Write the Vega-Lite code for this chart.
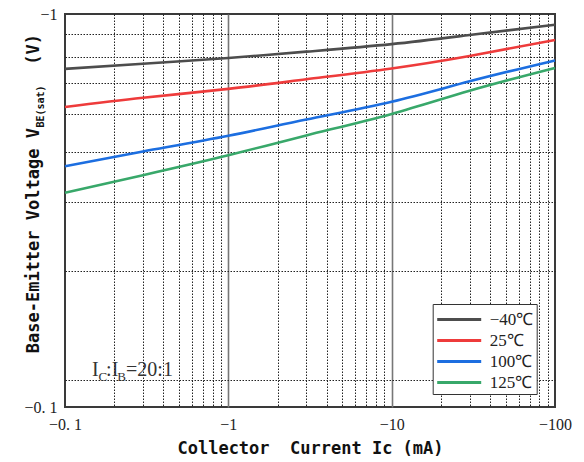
{
  "$schema": "https://vega.github.io/schema/vega-lite/v6.json",
  "width": 490,
  "height": 393,
  "autosize": {"type": "none"},
  "padding": {"left": 65, "top": 14, "right": 29, "bottom": 55},
  "background": "white",
  "config": {
    "view": {"stroke": "#3a3a3a", "strokeWidth": 2},
    "axis": {"ticks": false, "domain": false, "labelOverlap": false, "labelBound": false, "labelFlush": false}
  },
  "datasets": {
    "curves": [
      {"temp": "\u221240\u2103", "ic": 0.1, "vbe": 0.725},
      {"temp": "\u221240\u2103", "ic": 0.3, "vbe": 0.747},
      {"temp": "\u221240\u2103", "ic": 1, "vbe": 0.773},
      {"temp": "\u221240\u2103", "ic": 3, "vbe": 0.802},
      {"temp": "\u221240\u2103", "ic": 10, "vbe": 0.838},
      {"temp": "\u221240\u2103", "ic": 30, "vbe": 0.884},
      {"temp": "\u221240\u2103", "ic": 100, "vbe": 0.939},
      {"temp": "25\u2103", "ic": 0.1, "vbe": 0.58},
      {"temp": "25\u2103", "ic": 0.3, "vbe": 0.612},
      {"temp": "25\u2103", "ic": 1, "vbe": 0.645},
      {"temp": "25\u2103", "ic": 3, "vbe": 0.682},
      {"temp": "25\u2103", "ic": 10, "vbe": 0.727},
      {"temp": "25\u2103", "ic": 30, "vbe": 0.782},
      {"temp": "25\u2103", "ic": 100, "vbe": 0.859},
      {"temp": "100\u2103", "ic": 0.1, "vbe": 0.41},
      {"temp": "100\u2103", "ic": 0.3, "vbe": 0.447},
      {"temp": "100\u2103", "ic": 1, "vbe": 0.49},
      {"temp": "100\u2103", "ic": 3, "vbe": 0.539},
      {"temp": "100\u2103", "ic": 10, "vbe": 0.598},
      {"temp": "100\u2103", "ic": 30, "vbe": 0.674},
      {"temp": "100\u2103", "ic": 100, "vbe": 0.762},
      {"temp": "125\u2103", "ic": 0.1, "vbe": 0.351},
      {"temp": "125\u2103", "ic": 0.3, "vbe": 0.389},
      {"temp": "125\u2103", "ic": 1, "vbe": 0.437},
      {"temp": "125\u2103", "ic": 3, "vbe": 0.491},
      {"temp": "125\u2103", "ic": 10, "vbe": 0.557},
      {"temp": "125\u2103", "ic": 30, "vbe": 0.638},
      {"temp": "125\u2103", "ic": 100, "vbe": 0.729}
    ],
    "ytitle": [
      {"t": "Base-Emitter Voltage V", "ic": 0.069, "vbe": 0.137},
      {"t": "(V)", "ic": 0.069, "vbe": 0.743}
    ],
    "ytitlesub": [
      {"t": "BE(sat)", "ic": 0.0744, "vbe": 0.514}
    ],
    "note": [
      {"t": "I", "ic": 0.1463, "vbe": 0.1197},
      {"t": ":", "ic": 0.1785, "vbe": 0.1197},
      {"t": "I", "ic": 0.1935, "vbe": 0.1197},
      {"t": "=20:1", "ic": 0.2365, "vbe": 0.1197}
    ],
    "notesub": [
      {"t": "C", "ic": 0.1605, "vbe": 0.1164},
      {"t": "B", "ic": 0.209, "vbe": 0.1164}
    ]
  },
  "layer": [
    {
      "data": {"name": "curves"},
      "mark": {"type": "line", "interpolate": "natural", "strokeWidth": 2.6},
      "encoding": {
        "x": {
          "field": "ic", "type": "quantitative",
          "scale": {"type": "log", "domain": [0.1, 100], "nice": false},
          "axis": {
            "values": [0.1, 0.2, 0.3, 0.4, 0.5, 0.6, 0.7, 0.8, 0.9, 1, 2, 3, 4, 5, 6, 7, 8, 9, 10, 20, 30, 40, 50, 60, 70, 80, 90, 100],
            "title": "Collector\u00a0 Current Ic (mA)",
            "titleFont": "DejaVu Sans Mono", "titleFontSize": 17, "titleFontWeight": "bold", "titleColor": "#111", "titlePadding": 8,
            "labelExpr": "datum.value == 0.1 ? '\u22120. 1' : datum.value == 1 ? '\u22121' : datum.value == 10 ? '\u221210' : datum.value == 100 ? '\u2212100' : ''",
            "labelFont": "Liberation Serif", "labelFontSize": 16, "labelColor": "#222", "labelPadding": 9,
            "grid": true,
            "gridColor": {"condition": {"test": "datum.value == 1 || datum.value == 10", "value": "#777777"}, "value": "#222222"},
            "gridDash": {"condition": {"test": "datum.value == 1 || datum.value == 10", "value": []}, "value": [1.5, 1.5]},
            "gridWidth": {"condition": {"test": "datum.value == 1 || datum.value == 10", "value": 1.6}, "value": 1},
            "gridOpacity": {"condition": {"test": "datum.value == 0.1 || datum.value == 100", "value": 0}, "value": 1}
          }
        },
        "y": {
          "field": "vbe", "type": "quantitative",
          "scale": {"type": "log", "domain": [0.1, 1], "nice": false},
          "axis": {
            "values": [0.1, 0.117, 0.2222, 0.3333, 0.4444, 0.5556, 0.6667, 0.7778, 0.8889, 1],
            "title": null,
            "labelExpr": "datum.value == 1 ? '\u22121' : datum.value == 0.1 ? '\u22120. 1' : ''",
            "labelFont": "Liberation Serif", "labelFontSize": 16, "labelColor": "#222", "labelPadding": 8,
            "grid": true, "gridColor": "#222222", "gridDash": [1.5, 1.5], "gridWidth": 1,
            "gridOpacity": {"condition": {"test": "datum.value == 0.1 || datum.value == 1", "value": 0}, "value": 1}
          }
        },
        "color": {
          "field": "temp", "type": "nominal",
          "scale": {
            "domain": ["\u221240\u2103", "25\u2103", "100\u2103", "125\u2103"],
            "range": ["#4d4d4d", "#ee3b3b", "#1c6ee0", "#38a86a"]
          },
          "legend": {
            "orient": "none", "legendX": 367.7, "legendY": 290,
            "title": null,
            "symbolType": "M-1,0H3", "symbolSize": 484, "symbolStrokeWidth": 3, "symbolOffset": 0,
            "labelOffset": 29, "labelFont": "Liberation Serif", "labelFontSize": 17, "labelColor": "#222",
            "labelExpr": "indexof(datum.value, '25') == 0 ? '\u2002' + datum.value : datum.value",
            "padding": 3, "rowPadding": 0,
            "strokeColor": "#333333", "fillColor": "white"
          }
        }
      }
    },
    {
      "data": {"name": "ytitle"},
      "mark": {"type": "text", "angle": 270, "align": "left", "baseline": "alphabetic", "font": "DejaVu Sans Mono", "fontSize": 17, "fontWeight": "bold", "color": "#111"},
      "encoding": {
        "x": {"field": "ic", "type": "quantitative"},
        "y": {"field": "vbe", "type": "quantitative"},
        "text": {"field": "t"}
      }
    },
    {
      "data": {"name": "ytitlesub"},
      "mark": {"type": "text", "angle": 270, "align": "left", "baseline": "alphabetic", "font": "DejaVu Sans Mono", "fontSize": 10, "fontWeight": "bold", "color": "#111"},
      "encoding": {
        "x": {"field": "ic", "type": "quantitative"},
        "y": {"field": "vbe", "type": "quantitative"},
        "text": {"field": "t"}
      }
    },
    {
      "data": {"name": "note"},
      "mark": {"type": "text", "align": "left", "baseline": "alphabetic", "font": "Liberation Serif", "fontSize": 20, "color": "#333"},
      "encoding": {
        "x": {"field": "ic", "type": "quantitative"},
        "y": {"field": "vbe", "type": "quantitative"},
        "text": {"field": "t"}
      }
    },
    {
      "data": {"name": "notesub"},
      "mark": {"type": "text", "align": "left", "baseline": "alphabetic", "font": "Liberation Serif", "fontSize": 13, "color": "#333"},
      "encoding": {
        "x": {"field": "ic", "type": "quantitative"},
        "y": {"field": "vbe", "type": "quantitative"},
        "text": {"field": "t"}
      }
    }
  ]
}
